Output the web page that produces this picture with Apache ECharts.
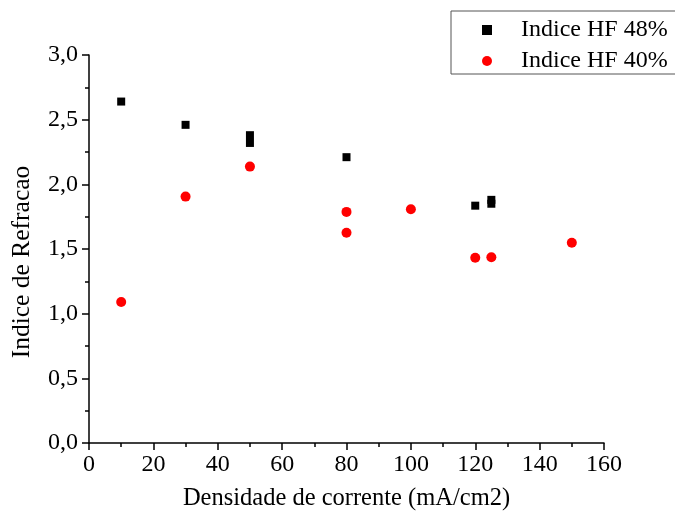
<!DOCTYPE html>
<html>
<head>
<meta charset="utf-8">
<script src="https://cdn.jsdelivr.net/npm/echarts@6/dist/echarts.min.js"></script>
<style>
html, body { margin: 0; padding: 0; background: #fff; }
#chart { width: 675px; height: 517px; }
</style>
</head>
<body>
<div id="chart"></div>
<script>
// densidade de corrente (mA/cm2)
var hf48X = [10, 30, 50, 50, 80, 120, 125, 125];
var hf48Y = [2.64, 2.46, 2.38, 2.32, 2.21, 1.835, 1.88, 1.85];
var hf40X = [10, 30, 50, 80, 80, 100, 120, 125, 150];
var hf40Y = [1.09, 1.905, 2.137, 1.787, 1.626, 1.807, 1.433, 1.436, 1.549];
var seriesNames = ["Indice HF 48%", "Indice HF 40%"];

function pairs(xs, ys) {
    var out = [];
    for (var i = 0; i < xs.length; i++) out.push([xs[i], ys[i]]);
    return out;
}

var font = "Liberation Serif";
// estilo dos rotulos dos eixos (rich text, para forcar a fonte serifada)
var tickRich = { t: { fontFamily: font, fontSize: 24, color: "#000" } };

var myChart = echarts.init(document.getElementById("chart"));
var option = {
    backgroundColor: "#fff",
    animation: false,
    textStyle: { fontFamily: font, color: "#000" },
    grid: { left: 89, right: 71, top: 55, bottom: 74 },
    legend: {
        left: 451,
        top: 11,
        orient: "vertical",
        padding: [7, 40, 1, 31],
        itemGap: 7,
        itemWidth: 10,
        itemHeight: 10,
        borderColor: "#555",
        borderWidth: 1,
        borderRadius: 0,
        textStyle: { fontFamily: font, fontSize: 24, color: "#000", padding: [0, 0, 0, 24] },
        data: [
            { name: seriesNames[0], icon: "rect" },
            { name: seriesNames[1], icon: "circle" }
        ]
    },
    xAxis: {
        type: "value",
        min: 0,
        max: 160,
        interval: 20,
        name: "Densidade de corrente (mA/cm2)",
        nameLocation: "middle",
        nameGap: 43,
        nameTextStyle: { fontFamily: font, fontSize: 24.5, color: "#000" },
        axisLine: { onZero: false, lineStyle: { color: "#000", width: 1.5 } },
        axisTick: { show: true, length: 7, lineStyle: { color: "#000", width: 1.5 } },
        minorTick: { show: true, splitNumber: 2, length: 4, lineStyle: { color: "#000", width: 1.5 } },
        axisLabel: {
            margin: 10,
            fontFamily: font, fontSize: 24, color: "#000",
            formatter: function (v) { return "{t|" + v + "}"; },
            rich: tickRich
        },
        splitLine: { show: false }
    },
    yAxis: {
        type: "value",
        min: 0,
        max: 3,
        interval: 0.5,
        name: "Indice de Refracao",
        nameLocation: "middle",
        nameGap: 54,
        nameTextStyle: { fontFamily: font, fontSize: 25.5, color: "#000", padding: [0, 26, 0, 0] },
        axisLine: { show: true, onZero: false, lineStyle: { color: "#000", width: 1.5 } },
        axisTick: { show: true, length: 7, lineStyle: { color: "#000", width: 1.5 } },
        minorTick: { show: true, splitNumber: 2, length: 4, lineStyle: { color: "#000", width: 1.5 } },
        axisLabel: {
            margin: 11,
            fontFamily: font, fontSize: 24, color: "#000",
            formatter: function (v) { return "{t|" + v.toFixed(1).replace(".", ",") + "}"; },
            rich: tickRich
        },
        splitLine: { show: false }
    },
    series: [
        {
            name: seriesNames[0],
            type: "scatter",
            symbol: "rect",
            symbolSize: 8,
            itemStyle: { color: "#000", opacity: 1 },
            data: pairs(hf48X, hf48Y)
        },
        {
            name: seriesNames[1],
            type: "scatter",
            symbol: "circle",
            symbolSize: 10,
            itemStyle: { color: "#ff0000", opacity: 1 },
            data: pairs(hf40X, hf40Y)
        }
    ]
};
myChart.setOption(option);
</script>
</body>
</html>
